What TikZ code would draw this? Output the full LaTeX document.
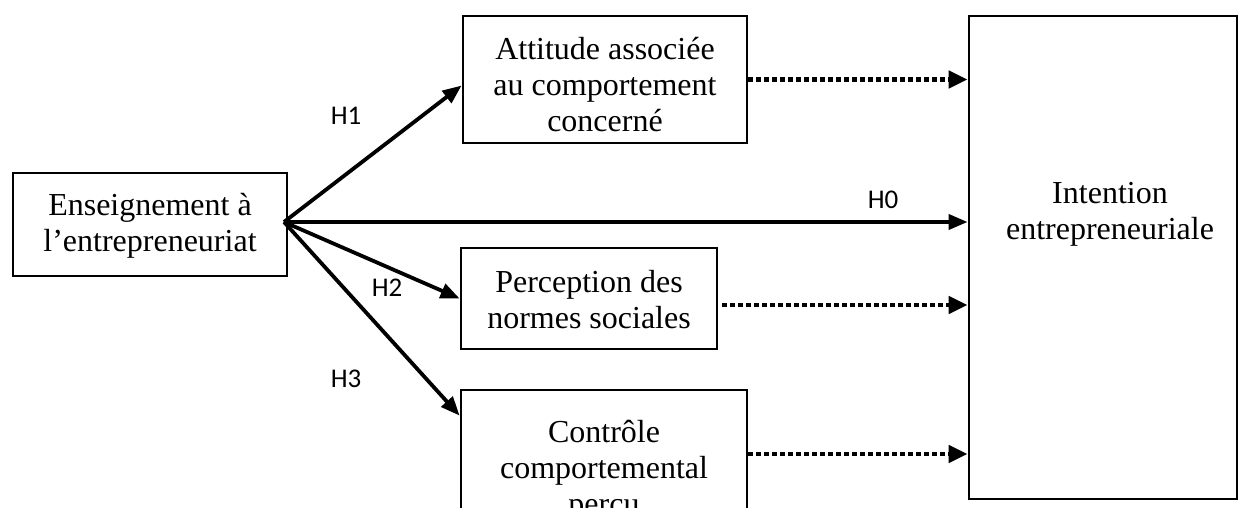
\documentclass[tikz,border=0pt]{standalone}
\usepackage{fontspec}
\setmainfont{Liberation Serif}
\newfontfamily\hfont{Carlito}
\usetikzlibrary{arrows.meta,calc}
\begin{document}
\begin{tikzpicture}[x=1pt,y=1pt,
  boxnode/.style={draw,line width=2.8pt,align=center,inner sep=0pt,
    font=\fontsize{32}{36}\selectfont},
  boxtext/.style={align=center,inner sep=0pt,font=\fontsize{32}{36}\selectfont},
  solidarrow/.style={line width=3.8pt,-{Triangle[length=19pt,width=15pt]}},
  dotarrow/.style={line width=4.5pt,dash pattern=on 5pt off 3pt,-{Triangle[length=19pt,width=17pt]}},
  hlabel/.style={font=\hfont\fontsize{27}{30}\selectfont,inner sep=0pt}]
\useasboundingbox (0,0) rectangle (1239,-508);
\clip (0,0) rectangle (1239,-508);
\node[boxnode,minimum width=274pt,minimum height=103pt] (src) at (150,-224.5) {};
\node[boxtext] (srctext) at (150,-226) {Enseignement à\\l’entrepreneuriat};
\node[boxnode,minimum width=284pt,minimum height=127pt] (att) at (605,-79.5) {};
\node[boxtext] (atttext) at (605,-85) {Attitude associée\\au comportement\\concerné};
\node[boxnode,minimum width=256pt,minimum height=101pt] (nor) at (589,-298.5) {};
\node[boxtext] (nortext) at (589,-299.5) {Perception des\\normes sociales};
\node[boxnode,minimum width=286pt,minimum height=156pt] (ctl) at (604,-468) {};
\node[boxtext] (ctltext) at (604,-471) {Contrôle\\comportemental\\percu};
\node[draw,line width=2.8pt,minimum width=268pt,minimum height=483pt,inner sep=0pt] (int) at (1103,-257.5) {};
\node[boxtext] (inttext) at (1110,-214) {Intention\\entrepreneuriale};
\coordinate (o) at (284,-222);
\draw[solidarrow] (o) -- ([yshift=-6pt]att.west);
\draw[solidarrow] (o) -- (o -| int.west);
\draw[solidarrow] (o) -- (nor.west);
\draw[solidarrow] (o) -- ([yshift=-27pt]ctl.north west);
\draw[dotarrow] (att.east) -- (att.east -| int.west);
\draw[dotarrow] ([xshift=4pt,yshift=-6.5pt]nor.east) -- ([yshift=-6.5pt]nor.east -| int.west);
\coordinate (c3) at ($(ctl.east)+(0,14pt)$);
\draw[dotarrow] (c3) -- (c3 -| int.west);
\node[hlabel] (h1) at (346,-116) {H1};
\node[hlabel] (h0) at (883,-200) {H0};
\node[hlabel] (h2) at (387,-288) {H2};
\node[hlabel] (h3) at (346,-379) {H3};
\end{tikzpicture}
\end{document}
